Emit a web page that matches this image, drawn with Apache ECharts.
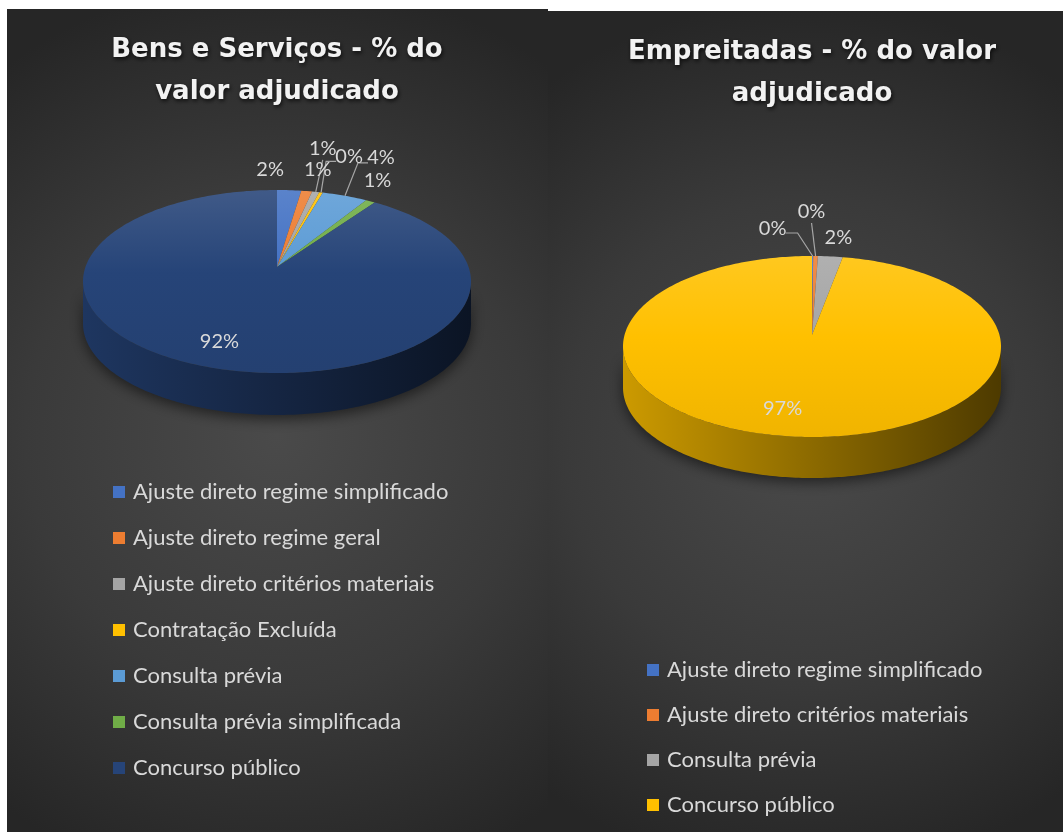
<!DOCTYPE html>
<html>
<head>
<meta charset="utf-8">
<script src="https://cdn.jsdelivr.net/npm/echarts@6/dist/echarts.min.js"></script>
<style>
  body { margin: 0; background: #ffffff; }
  .panel { position: absolute; }
</style>
</head>
<body>
<div id="bens" class="panel" style="left:7px;top:9px;width:541px;height:823px"></div>
<div id="emp" class="panel" style="left:548px;top:11px;width:515px;height:821px"></div>
<script>
// Bens e Serviços - share of awarded value (%)
const bensCategories = [
  "Ajuste direto regime simplificado",
  "Ajuste direto regime geral",
  "Ajuste direto critérios materiais",
  "Contratação Excluída",
  "Consulta prévia",
  "Consulta prévia simplificada",
  "Concurso público",
];
const bensValues = [2.0, 0.9, 0.6, 0.3, 3.8, 0.8, 91.6];

// Empreitadas - share of awarded value (%)
const empCategories = [
  "Ajuste direto regime simplificado",
  "Ajuste direto critérios materiais",
  "Consulta prévia",
  "Concurso público",
];
const empValues = [0.1, 0.4, 2.1, 97.4];

const bensColors = ["#4472c4", "#ed7d31", "#a5a5a5", "#ffc000", "#5b9bd5", "#70ad47", "#264478"];
const empColors = ["#4472c4", "#ed7d31", "#a5a5a5", "#ffc000"];

// label placement relative to the slice's rim point, plus leader-line flags
const bensLabelOffsets = [[-19, -21], [11, -22], [7, -43], [28, -36], [36, -38], [7, -21], [-7, -28]];
const bensLeaders = [false, false, true, true, true, false, false];
const empLabelOffsets = [[-40, -27], [-4, -44], [8, -19], [-14, -28]];
const empLeaders = [true, true, false, false];

const mix = (hex, target, t) => {
  const a = parseInt(hex.slice(1), 16);
  const b = parseInt(target.slice(1), 16);
  const ch = (n, s) => (n >> s) & 255;
  const m = (s) => Math.round(ch(a, s) * (1 - t) + ch(b, s) * t);
  return `rgb(${m(16)},${m(8)},${m(0)})`;
};
const shade = (hex, f) => {
  const a = parseInt(hex.slice(1), 16);
  return `rgb(${Math.round(((a >> 16) & 255) * f)},${Math.round(((a >> 8) & 255) * f)},${Math.round((a & 255) * f)})`;
};

const buildOption = (cfg) => {
  const { title, titleX, categories, values, colors, offsets, leaders, pie, legendTop, legendLeft, legendGap } = cfg;
  const total = values.reduce((s, v) => s + v, 0);
  const TAU = Math.PI * 2;
  const rim = (a) => [pie.cx + pie.rx * Math.sin(a), pie.cy - pie.ry * Math.cos(a)];
  const apex = [pie.cx, pie.cy - pie.lift];

  const arc = (a0, a1, dy) => {
    const n = Math.max(2, Math.ceil((a1 - a0) / (Math.PI / 180)));
    const pts = [];
    for (let k = 0; k <= n; k++) {
      const p = rim(a0 + ((a1 - a0) * k) / n);
      pts.push([p[0], p[1] + dy]);
    }
    return pts;
  };

  const renderItem = (params, api) => {
    const i = params.seriesIndex;
    const before = values.slice(0, i).reduce((s, v) => s + v, 0);
    const v = api.value(0);
    const a0 = (before / total) * TAU;
    const a1 = ((before + v) / total) * TAU;
    const base = colors[i];
    const children = [];

    // front wall (only the part facing the viewer)
    const s = Math.max(a0, Math.PI / 2);
    const e = Math.min(a1, (Math.PI * 3) / 2);
    if (e > s) {
      const top = arc(s, e, 0);
      const bottom = arc(s, e, pie.depth).reverse();
      children.push({
        type: "polygon",
        z2: 1,
        shape: { points: top.concat(bottom) },
        style: {
          fill: new echarts.graphic.LinearGradient(
            pie.cx - pie.rx, 0, pie.cx + pie.rx, 0,
            [
              { offset: 0, color: shade(base, 0.8) },
              { offset: 0.5, color: shade(base, 0.55) },
              { offset: 1, color: shade(base, 0.3) },
            ],
            true
          ),
          shadowBlur: 14,
          shadowColor: "rgba(0,0,0,0.55)",
          shadowOffsetY: 4,
        },
      });
    }

    // top face
    children.push({
      type: "polygon",
      z2: 10,
      shape: { points: [apex].concat(arc(a0, a1, 0)) },
      style: {
        fill: new echarts.graphic.LinearGradient(
          0, pie.cy - pie.ry, 0, pie.cy + pie.ry,
          [
            { offset: 0, color: mix(base, "#ffffff", 0.12) },
            { offset: 0.45, color: base },
            { offset: 1, color: shade(base, 0.94) },
          ],
          true
        ),
      },
    });

    // data label
    const mid = rim((a0 + a1) / 2);
    const lx = mid[0] + offsets[i][0];
    const ly = mid[1] + offsets[i][1];
    const text = Math.round((v / total) * 100) + "%";
    if (leaders[i]) {
      const half = text.length * 5;
      let pts;
      if (lx < mid[0] - 10) {
        const end = [lx + half + 3, ly + 4];
        pts = [mid, [end[0] + 12, end[1]], end];
      } else if (lx > mid[0] + 10) {
        const end = [lx - half - 3, ly + 5];
        pts = [mid, [end[0] - 10, end[1]], end];
      } else {
        pts = [mid, [lx, ly + 11]];
      }
      children.push({
        type: "polyline",
        z2: 20,
        shape: { points: pts },
        style: { stroke: "#a6a6a6", lineWidth: 1.2, fill: null },
      });
    }
    children.push({
      type: "text",
      z2: 30,
      style: {
        text,
        x: lx,
        y: ly,
        align: "center",
        verticalAlign: "middle",
        fill: "#d9d9d9",
        fontSize: 20,
        fontFamily: "Lato",
      },
    });

    return { type: "group", children };
  };

  return {
    animation: false,
    backgroundColor: new echarts.graphic.RadialGradient(0.5, 0.52, 0.85, [
      { offset: 0, color: "#4a4a4a" },
      { offset: 0.55, color: "#3a3a3a" },
      { offset: 1, color: "#262626" },
    ]),
    title: {
      text: title,
      left: titleX,
      top: 20,
      textAlign: "center",
      padding: 0,
      textStyle: {
        color: "#f2f2f2",
        fontFamily: "DejaVu Sans",
        fontWeight: "bold",
        fontSize: 26,
        lineHeight: 42,
        textShadowColor: "rgba(0,0,0,0.75)",
        textShadowBlur: 4,
        textShadowOffsetX: 1,
        textShadowOffsetY: 2,
      },
    },
    legend: {
      orient: "vertical",
      left: legendLeft,
      top: legendTop,
      padding: 0,
      icon: "rect",
      itemWidth: 12,
      itemHeight: 12,
      itemGap: legendGap,
      selectedMode: false,
      data: categories,
      textStyle: {
        color: "#d9d9d9",
        fontFamily: "Lato",
        fontSize: 22,
        lineHeight: 22,
        padding: [0, 0, 0, 3],
      },
    },
    series: categories.map((name, i) => ({
      type: "custom",
      name,
      coordinateSystem: "none",
      itemStyle: { color: colors[i] },
      renderItem,
      data: [[values[i]]],
    })),
  };
};

const bensChart = echarts.init(document.getElementById("bens"));
bensChart.setOption(
  buildOption({
    title: "Bens e Serviços - % do\nvalor adjudicado",
    titleX: 270,
    categories: bensCategories,
    values: bensValues,
    colors: bensColors,
    offsets: bensLabelOffsets,
    leaders: bensLeaders,
    pie: { cx: 270, cy: 272.5, rx: 194, ry: 91.5, lift: 14.5, depth: 42 },
    legendLeft: 106,
    legendTop: 472,
    legendGap: 24,
  })
);

const empChart = echarts.init(document.getElementById("emp"));
empChart.setOption(
  buildOption({
    title: "Empreitadas - % do valor\nadjudicado",
    titleX: 264,
    categories: empCategories,
    values: empValues,
    colors: empColors,
    offsets: empLabelOffsets,
    leaders: empLeaders,
    pie: { cx: 264, cy: 335.5, rx: 189, ry: 90.5, lift: 11.5, depth: 41 },
    legendLeft: 99,
    legendTop: 648,
    legendGap: 23,
  })
);

window.addEventListener("resize", () => {
  bensChart.resize();
  empChart.resize();
});
</script>
</body>
</html>
